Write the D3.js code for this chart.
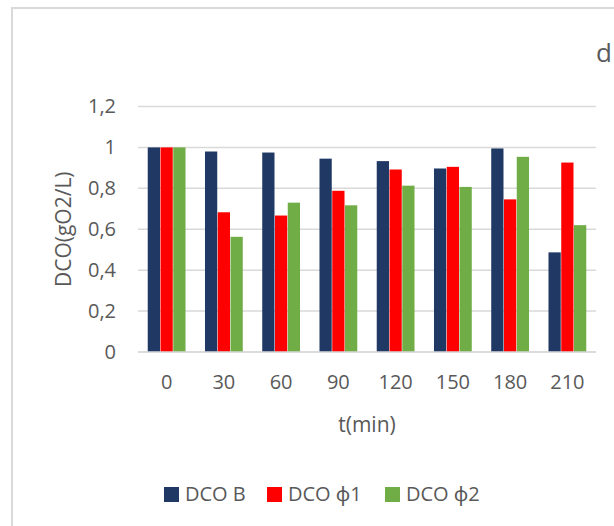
<!DOCTYPE html>
<html>
<head>
<meta charset="utf-8">
<script src="https://cdn.jsdelivr.net/npm/d3@7"></script>
<style>
  body { margin: 0; background: #fff; }
  text { font-family: "Open Sans", "Noto Sans", sans-serif; fill: #595959; }
</style>
</head>
<body>
<script>
// categories (t in min)
var times = ["0", "30", "60", "90", "120", "150", "180", "210"];
// series
var seriesNames = ["DCO B", "DCO \u03d51", "DCO \u03d52"];
var dcoB  = [1.00, 0.98, 0.975, 0.945, 0.933, 0.897, 0.995, 0.487];
var dcoP1 = [1.00, 0.683, 0.667, 0.788, 0.892, 0.905, 0.746, 0.926];
var dcoP2 = [1.00, 0.563, 0.730, 0.717, 0.813, 0.807, 0.954, 0.620];
var yTicks = [0, 0.2, 0.4, 0.6, 0.8, 1, 1.2];
var colors = ["#203864", "#ff0000", "#70ad47"];

var w = 614, h = 526;
var svg = d3.select("body").append("svg")
  .attr("width", w).attr("height", h);

// chart frame (cut off at the right and bottom)
svg.append("rect")
  .attr("x", 12).attr("y", 8)
  .attr("width", 700).attr("height", 600)
  .attr("fill", "none").attr("stroke", "#d9d9d9").attr("stroke-width", 2);

// title, mostly off screen
svg.append("text")
  .attr("x", 596).attr("y", 62)
  .style("font-size", "26px")
  .text("d");

var plotL = 138, plotR = 596, plotT = 106.5, plotB = 352;

var x = d3.scaleBand().domain(times).range([plotL, plotR]).paddingInner(0.34).paddingOuter(0.17);
var xs = d3.scaleBand().domain(d3.range(3)).range([0, x.bandwidth()]).paddingInner(0.04);
var y = d3.scaleLinear().domain([0, 1.2]).range([plotB, plotT]);

// gridlines
svg.append("g").selectAll("line")
  .data(yTicks).enter().append("line")
  .attr("x1", plotL).attr("x2", plotR)
  .attr("y1", function(d) { return y(d); })
  .attr("y2", function(d) { return y(d); })
  .attr("stroke", "#d9d9d9").attr("stroke-width", 1.5);

// y tick labels
var yAxis = svg.append("g")
  .attr("transform", "translate(" + plotL + ",0)")
  .call(d3.axisLeft(y).tickValues(yTicks).tickSize(0).tickPadding(22)
    .tickFormat(function(d) { return String(d).replace(".", ","); }));
yAxis.select(".domain").remove();
yAxis.selectAll("text").style("font-size", "20px").attr("fill", "#595959");

// bars
var rows = times.map(function(t, i) { return [dcoB[i], dcoP1[i], dcoP2[i]]; });
var groups = svg.append("g").selectAll("g")
  .data(rows).enter().append("g")
  .attr("transform", function(d, i) { return "translate(" + x(times[i]) + ",0)"; });
groups.selectAll("rect")
  .data(function(d) { return d; }).enter().append("rect")
  .attr("x", function(d, j) { return xs(j); })
  .attr("width", xs.bandwidth())
  .attr("y", function(d) { return y(d); })
  .attr("height", function(d) { return plotB - y(d); })
  .attr("fill", function(d, j) { return colors[j]; });

// x axis line over bars
svg.append("line")
  .attr("x1", plotL).attr("x2", plotR)
  .attr("y1", plotB).attr("y2", plotB)
  .attr("stroke", "#d9d9d9").attr("stroke-width", 1.5);

// x tick labels
var xAxis = svg.append("g")
  .attr("transform", "translate(0," + plotB + ")")
  .call(d3.axisBottom(x).tickSize(0).tickPadding(23));
xAxis.select(".domain").remove();
xAxis.selectAll("text").style("font-size", "20px").attr("fill", "#595959");

// axis titles
svg.append("text")
  .attr("x", (plotL + plotR) / 2).attr("y", 432)
  .attr("text-anchor", "middle")
  .style("font-size", "21px")
  .text("t(min)");

svg.append("text")
  .attr("transform", "translate(71," + (plotT + plotB) / 2 + ") rotate(-90)")
  .attr("text-anchor", "middle")
  .style("font-size", "21px")
  .text("DCO(gO2/L)");

// legend
var legendX = [164, 267, 385];
var legend = svg.append("g").selectAll("g")
  .data(seriesNames).enter().append("g")
  .attr("transform", function(d, i) { return "translate(" + legendX[i] + ",487)"; });
legend.append("rect")
  .attr("width", 15).attr("height", 15)
  .attr("fill", function(d, i) { return colors[i]; });
legend.append("text")
  .attr("x", 21).attr("y", 14)
  .style("font-size", "20px")
  .text(function(d) { return d; });
</script>
</body>
</html>
